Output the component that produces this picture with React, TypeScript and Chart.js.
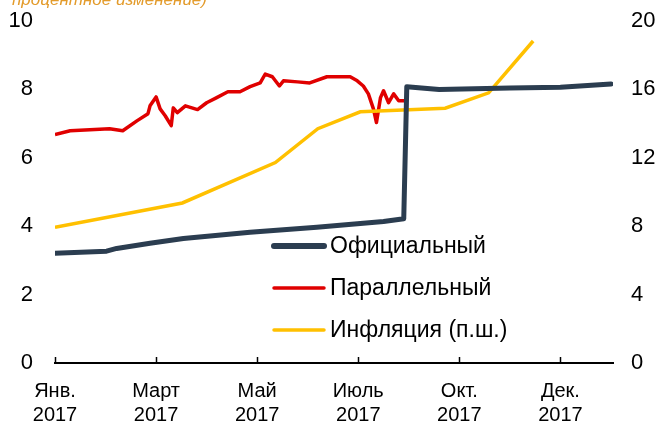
import React, { useEffect, useRef } from "react";
import { Chart, registerables } from "chart.js";

Chart.register(...registerables);

const TITLE_TAIL = "процентное изменение)";
const X_TICK_LABELS = [["Янв.", "2017"], ["Март", "2017"], ["Май", "2017"], ["Июль", "2017"], ["Окт.", "2017"], ["Дек.", "2017"]];
const LEGEND_LABELS = ["Официальный", "Параллельный", "Инфляция (п.ш.)"];

// x positions in tick units (0 = Янв. 2017, 1 = Март 2017, ...)
const OFFICIAL_X = [0, 0.51, 0.61, 0.94, 1.27, 1.93, 2.59, 3.25, 3.45, 3.48, 3.8, 4.5, 5.0, 5.5];
const OFFICIAL_Y = [3.21, 3.27, 3.35, 3.5, 3.64, 3.82, 3.97, 4.14, 4.22, 8.08, 8.0, 8.04, 8.06, 8.16];

const PARALLEL_X = [0, 0.15, 0.54, 0.67, 0.81, 0.92, 0.94, 1.0, 1.04, 1.09, 1.15, 1.17, 1.21, 1.29, 1.41, 1.5, 1.6, 1.71, 1.83, 1.93, 2.03, 2.08, 2.15, 2.22, 2.26, 2.4, 2.52, 2.69, 2.92, 2.99, 3.05, 3.1, 3.15, 3.18, 3.22, 3.25, 3.3, 3.35, 3.4, 3.49];
const PARALLEL_Y = [6.68, 6.79, 6.85, 6.79, 7.08, 7.29, 7.52, 7.78, 7.43, 7.23, 6.94, 7.46, 7.32, 7.52, 7.41, 7.61, 7.76, 7.93, 7.93, 8.08, 8.19, 8.45, 8.37, 8.1, 8.25, 8.22, 8.19, 8.37, 8.37, 8.25, 8.1, 7.87, 7.43, 7.03, 7.76, 7.96, 7.61, 7.87, 7.67, 7.67];

const INFLATION_X = [0, 1.26, 2.18, 2.6, 3.02, 3.86, 4.29, 4.73];
const INFLATION_Y = [7.93, 9.36, 11.72, 13.7, 14.69, 14.9, 15.8, 18.83];

const LEFT_TICKS = { min: 0, max: 10, step: 2 };
const RIGHT_TICKS = { min: 0, max: 20, step: 4 };

const C_OFFICIAL = "#2B3D50";
const C_PARALLEL = "#E00000";
const C_INFLATION = "#FFC000";
const C_TITLE = "#E39B2B";
const FONT = "'Liberation Sans', Arial, sans-serif";

const pts = (xs: number[], ys: number[]) => xs.map((x, i) => ({ x, y: ys[i] }));

export default function App() {
  const ref = useRef<HTMLCanvasElement | null>(null);
  useEffect(() => {
    if (!ref.current) return;
    const overlay = {
      id: "overlay",
      afterDraw(chart: any) {
        const ctx = chart.ctx;
        const xs = chart.scales.x;
        const area = chart.chartArea;
        ctx.save();
        // inward ticks on x axis
        ctx.strokeStyle = "#000";
        ctx.lineWidth = 1.5;
        for (let i = 0; i < X_TICK_LABELS.length; i++) {
          const px = Math.round(xs.getPixelForValue(i)) + 0.5;
          ctx.beginPath();
          ctx.moveTo(px, area.bottom);
          ctx.lineTo(px, area.bottom - 6);
          ctx.stroke();
        }
        // title tail (clipped at top)
        ctx.fillStyle = C_TITLE;
        ctx.font = `italic 17px ${FONT}`;
        ctx.textBaseline = "alphabetic";
        ctx.textAlign = "left";
        ctx.fillText(TITLE_TAIL, 12, 5);
        // legend
        const colors = [C_OFFICIAL, C_PARALLEL, C_INFLATION];
        const widths = [6, 3.5, 3.5];
        const ys = [246, 288, 330];
        ctx.font = `23px ${FONT}`;
        ctx.textBaseline = "middle";
        for (let i = 0; i < 3; i++) {
          ctx.strokeStyle = colors[i];
          ctx.lineWidth = widths[i];
          ctx.lineCap = "round";
          ctx.beginPath();
          ctx.moveTo(274, ys[i]);
          ctx.lineTo(324, ys[i]);
          ctx.stroke();
          ctx.fillStyle = "#000";
          ctx.fillText(LEGEND_LABELS[i], 330, ys[i] + 1);
        }
        ctx.restore();
      },
    };
    const fitV = (w: number) => (s: any) => {
      s.width = w;
      s.paddingTop = 0;
      s.paddingBottom = 0;
    };
    const chart = new Chart(ref.current, {
      type: "line",
      data: {
        datasets: [
          {
            label: LEGEND_LABELS[0],
            data: pts(OFFICIAL_X, OFFICIAL_Y),
            borderColor: C_OFFICIAL,
            borderWidth: 5,
            yAxisID: "y",
            pointRadius: 0,
            tension: 0,
            borderJoinStyle: "round",
            borderCapStyle: "round",
          },
          {
            label: LEGEND_LABELS[2],
            data: pts(INFLATION_X, INFLATION_Y),
            borderColor: C_INFLATION,
            borderWidth: 3.5,
            yAxisID: "y2",
            pointRadius: 0,
            tension: 0,
          },
          {
            label: LEGEND_LABELS[1],
            data: pts(PARALLEL_X, PARALLEL_Y),
            borderColor: C_PARALLEL,
            borderWidth: 3.5,
            yAxisID: "y",
            pointRadius: 0,
            tension: 0,
            borderJoinStyle: "round",
          },
        ],
      },
      options: {
        animation: false,
        responsive: false,
        maintainAspectRatio: false,
        layout: { padding: { top: 21, left: 0, right: 0, bottom: 0 } },
        plugins: { legend: { display: false }, tooltip: { enabled: false }, title: { display: false } },
        scales: {
          x: {
            type: "linear",
            min: 0,
            max: 5.52,
            grid: { display: false, drawTicks: false },
            border: { display: true, color: "#000", width: 2 },
            afterFit: (s: any) => { s.height = 60; },
            afterBuildTicks: (s: any) => {
              s.ticks = X_TICK_LABELS.map((_, i) => ({ value: i }));
            },
            ticks: {
              autoSkip: false,
              maxRotation: 0,
              padding: 16,
              color: "#000",
              font: { family: FONT, size: 20, lineHeight: 1.22 },
              callback: (v: any) => X_TICK_LABELS[Number(v)] ?? "",
            },
          },
          y: {
            position: "left",
            min: LEFT_TICKS.min,
            max: LEFT_TICKS.max,
            grid: { display: false, drawTicks: false },
            border: { display: false },
            afterFit: fitV(55),
            ticks: {
              stepSize: LEFT_TICKS.step,
              padding: 22,
              color: "#000",
              font: { family: FONT, size: 22 },
            },
          },
          y2: {
            position: "right",
            min: RIGHT_TICKS.min,
            max: RIGHT_TICKS.max,
            grid: { display: false, drawTicks: false },
            border: { display: false },
            afterFit: fitV(44),
            ticks: {
              stepSize: RIGHT_TICKS.step,
              padding: 18,
              color: "#000",
              font: { family: FONT, size: 22 },
            },
          },
        },
      },
      plugins: [overlay],
    });
    return () => chart.destroy();
  }, []);
  return (
    <div style={{ position: "fixed", left: 0, top: 0, width: 657, height: 423, background: "#fff" }}>
      <canvas ref={ref} width={657} height={423} style={{ width: 657, height: 423, display: "block" }} />
    </div>
  );
}
